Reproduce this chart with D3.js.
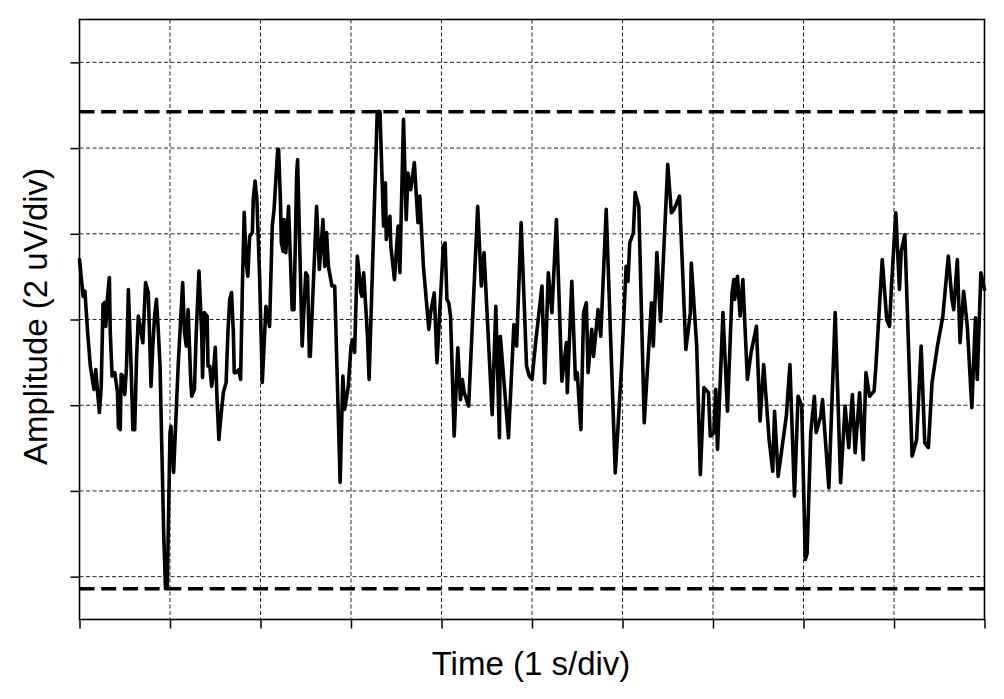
<!DOCTYPE html>
<html>
<head>
<meta charset="utf-8">
<script src="https://cdn.jsdelivr.net/npm/d3@7"></script>
<style>
  html, body { margin: 0; padding: 0; background: #fff; }
  svg { display: block; }
</style>
</head>
<body>
<svg id="chart" width="1004" height="699"></svg>
<script>
// ---- Data (time in s, amplitude in uV) ----
const times = [0.00,0.04,0.06,0.09,0.12,0.16,0.18,0.20,0.22,0.24,0.26,0.28,0.29,0.31,0.33,0.34,0.36,0.39,0.42,0.43,
0.45,0.46,0.48,0.50,0.52,0.54,0.57,0.59,0.61,0.63,0.65,0.67,0.70,0.73,0.76,0.78,0.79,0.81,0.83,0.85,
0.87,0.89,0.91,0.93,0.95,0.97,1.00,1.01,1.04,1.09,1.12,1.14,1.16,1.18,1.20,1.23,1.24,1.27,1.29,1.32,
1.35,1.36,1.38,1.41,1.42,1.44,1.46,1.48,1.50,1.52,1.54,1.57,1.59,1.62,1.64,1.66,1.68,1.70,1.71,1.73,
1.76,1.78,1.80,1.82,1.84,1.86,1.88,1.91,1.92,1.94,1.96,1.99,2.02,2.06,2.10,2.13,2.15,2.19,2.20,2.22,
2.23,2.25,2.26,2.28,2.31,2.35,2.37,2.40,2.41,2.46,2.50,2.52,2.54,2.55,2.62,2.65,2.67,2.69,2.71,2.73,
2.75,2.79,2.82,2.88,2.91,2.93,2.97,3.00,3.02,3.04,3.07,3.11,3.12,3.14,3.18,3.20,3.29,3.32,3.36,3.38,
3.39,3.43,3.44,3.48,3.52,3.54,3.58,3.61,3.63,3.66,3.70,3.74,3.76,3.80,3.86,3.88,3.92,3.95,4.02,4.04,
4.06,4.08,4.10,4.14,4.18,4.21,4.23,4.25,4.30,4.35,4.40,4.44,4.47,4.56,4.60,4.64,4.65,4.74,4.80,4.83,
4.88,4.94,4.97,5.00,5.04,5.11,5.14,5.18,5.22,5.27,5.33,5.38,5.39,5.44,5.48,5.50,5.54,5.57,5.60,5.62,
5.66,5.68,5.73,5.76,5.82,5.92,5.99,6.04,6.06,6.08,6.12,6.14,6.18,6.24,6.32,6.34,6.38,6.42,6.50,6.54,
6.57,6.63,6.70,6.75,6.76,6.82,6.86,6.90,6.95,6.97,7.01,7.03,7.05,7.11,7.16,7.21,7.23,7.24,7.27,7.30,
7.33,7.38,7.42,7.48,7.52,7.56,7.62,7.66,7.68,7.72,7.81,7.85,7.90,7.94,7.98,8.02,8.04,8.08,8.12,8.14,
8.19,8.21,8.28,8.35,8.41,8.46,8.50,8.54,8.57,8.62,8.66,8.69,8.73,8.78,8.80,8.87,8.92,8.95,8.97,9.02,
9.06,9.08,9.12,9.20,9.25,9.30,9.34,9.38,9.42,9.48,9.54,9.60,9.64,9.66,9.70,9.73,9.77,9.81,9.86,9.90,
9.92,9.96,10.00];

const amplitudes = [1.40,0.54,0.66,-0.30,-1.09,-1.63,-1.17,-1.70,-2.17,-1.56,0.35,0.40,-0.16,0.54,0.98,-0.30,-1.32,-1.24,-1.70,-2.52,
-2.57,-1.28,-1.32,-1.75,-1.09,0.70,-1.09,-2.57,-2.57,-0.93,0.08,-0.16,-0.54,0.86,0.63,-0.77,-1.56,-0.62,0.08,0.47,
-0.23,-1.09,-3.03,-4.97,-6.28,-6.25,-2.64,-2.49,-3.57,-1.09,0.08,0.86,-0.30,-0.62,0.23,-1.47,-1.79,-1.63,-0.30,1.13,
-0.30,-1.35,0.16,0.08,-1.09,-1.09,-1.56,-1.24,-0.65,-1.87,-2.80,-2.10,-1.70,-1.47,-0.30,0.47,0.63,-0.30,-1.24,-1.24,
-1.17,-1.40,0.78,2.50,1.40,1.01,1.94,2.03,2.80,3.23,2.80,1.01,-1.47,0.31,-0.16,2.18,2.57,3.97,3.97,2.80,
1.80,1.59,2.33,1.56,2.64,0.23,0.23,3.42,3.73,-0.62,1.09,1.01,-0.86,-0.86,2.64,1.17,1.71,2.33,1.24,2.03,
1.24,0.78,0.78,-3.80,-1.32,-2.10,-1.56,-0.62,-0.47,-0.77,1.48,0.63,0.54,1.09,-0.30,-1.40,4.85,4.85,2.18,3.19,
1.87,2.41,1.71,0.93,2.18,1.09,4.67,2.33,3.42,3.03,3.66,2.26,2.88,1.24,-0.23,0.16,0.62,-1.01,1.71,1.79,
0.47,0.39,0.08,-2.72,-0.66,-1.87,-1.40,-1.70,-2.02,0.31,2.64,0.78,1.56,-2.22,0.31,-2.76,-0.39,-2.76,-0.12,-0.62,
2.26,-1.09,-1.32,-1.40,-0.54,0.78,-1.48,1.09,0.16,2.33,-1.44,-0.54,-1.71,0.89,-1.40,-1.24,-2.57,0.16,0.39,-1.24,
-0.23,-0.86,0.23,-0.39,2.57,-3.58,-1.09,1.24,0.89,1.79,2.02,2.96,2.64,-2.41,0.39,-0.62,1.56,-0.04,3.62,2.49,
2.57,2.88,-0.70,0.16,1.32,-0.62,-3.62,-1.59,-1.71,-2.72,-2.64,-1.63,-3.03,0.16,-2.14,0.62,0.93,0.47,1.01,0.08,
0.93,-1.40,-0.78,-0.16,-2.37,-1.05,-2.80,-3.54,-2.14,-3.66,-2.26,-1.05,-4.12,-1.79,-2.02,-5.60,-5.46,-2.64,-1.79,-2.64,
-2.26,-1.87,-3.93,0.16,-3.81,-2.02,-2.99,-1.75,-3.11,-1.71,-3.27,-1.24,-1.79,-1.67,-1.09,1.40,0.00,-0.16,0.70,2.49,
0.70,1.59,1.98,-3.19,-2.80,-0.62,-2.88,-2.99,-1.48,-0.62,0.08,1.48,0.47,0.23,1.40,-0.54,0.66,-0.16,-2.06,0.04,
-1.40,1.09,0.70];

const timeTicks = [0,1,2,3,4,5,6,7,8,9,10];
const ampTicks = [-6,-4,-2,0,2,4,6];
const timeDomain = [0, 10];
const ampDomain = [-7, 7];
const xLabel = "Time (1 s/div)";
const yLabel = "Amplitude (2 uV/div)";

// ---- Layout ----
const svg = d3.select("#chart");
const mLeft = 79.5, mTop = 19.5, W = 905, H = 600;
const g = svg.append("g").attr("transform", `translate(${mLeft},${mTop})`);

const x = d3.scaleLinear().domain(timeDomain).range([0, W]);
const y = d3.scaleLinear().domain(ampDomain).range([H, 0]);

// grid
const gridInnerX = timeTicks.filter(t => t > timeDomain[0] && t < timeDomain[1]);
g.append("g").selectAll("line").data(gridInnerX).join("line")
  .attr("x1", d => x(d)).attr("x2", d => x(d)).attr("y1", 0).attr("y2", H)
  .attr("stroke", "#222").attr("stroke-width", 1).attr("stroke-dasharray", "4,2.5");
g.append("g").selectAll("line").data(ampTicks).join("line")
  .attr("x1", 0).attr("x2", W).attr("y1", d => y(d)).attr("y2", d => y(d))
  .attr("stroke", "#222").attr("stroke-width", 1).attr("stroke-dasharray", "4,2.5");

// axes (ticks only)
const xAxis = g.append("g").attr("transform", `translate(0,${H})`)
  .call(d3.axisBottom(x).tickValues(timeTicks).tickSize(9).tickFormat(""));
const yAxis = g.append("g")
  .call(d3.axisLeft(y).tickValues(ampTicks).tickSize(9).tickFormat(""));
[xAxis, yAxis].forEach(a => {
  a.select(".domain").remove();
  a.selectAll(".tick line").attr("stroke", "#000").attr("stroke-width", 1.5);
});

// threshold lines at max and min
const maxV = d3.max(amplitudes), minV = d3.min(amplitudes);
g.append("g").selectAll("line").data([maxV, minV]).join("line")
  .attr("x1", 0).attr("x2", W).attr("y1", d => y(d)).attr("y2", d => y(d))
  .attr("stroke", "#000").attr("stroke-width", 3.5).attr("stroke-dasharray", "15,6.7");

// signal
const pts = times.map((t, i) => [t, amplitudes[i]]);
g.append("path").datum(pts)
  .attr("fill", "none").attr("stroke", "#000").attr("stroke-width", 3.6)
  .attr("stroke-linejoin", "round").attr("stroke-linecap", "round")
  .attr("d", d3.line().x(d => x(d[0])).y(d => y(d[1])));

// frame
g.append("rect").attr("x", 0).attr("y", 0).attr("width", W).attr("height", H)
  .attr("fill", "none").attr("stroke", "#000").attr("stroke-width", 1.6);

// labels
svg.append("text").attr("x", mLeft + W / 2 - 1).attr("y", 675)
  .attr("text-anchor", "middle")
  .style("font-family", "'Liberation Sans', Arial, Helvetica, sans-serif")
  .style("font-size", "33px").attr("fill", "#000").text(xLabel);
svg.append("text")
  .attr("transform", `translate(47,${mTop + H / 2 - 3}) rotate(-90)`)
  .attr("text-anchor", "middle")
  .style("font-family", "'Liberation Sans', Arial, Helvetica, sans-serif")
  .style("font-size", "33px").attr("fill", "#000").text(yLabel);
</script>
</body>
</html>
